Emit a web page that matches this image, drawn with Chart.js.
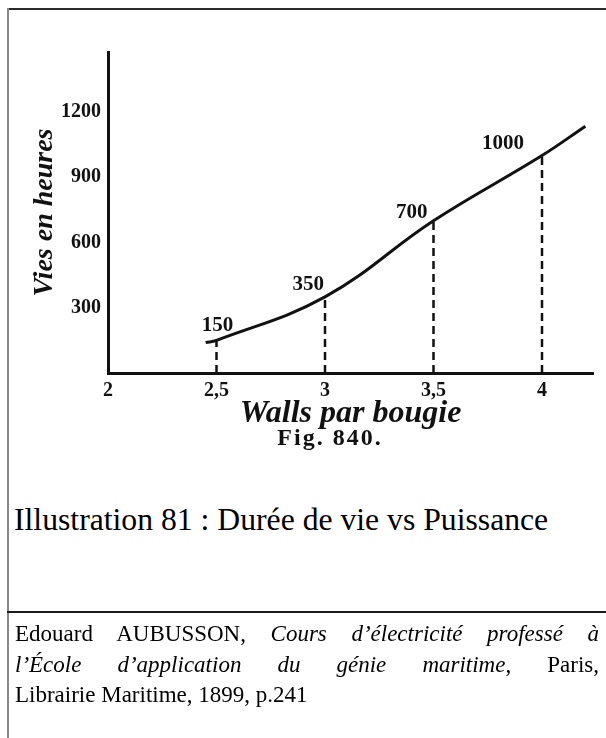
<!DOCTYPE html>
<html lang="fr">
<head>
<meta charset="utf-8">
<title>Durée de vie vs Puissance</title>
<script src="https://cdn.jsdelivr.net/npm/chart.js@4/dist/chart.umd.min.js"></script>
<style>
  html, body { margin: 0; padding: 0; background: #fff; }
  body { width: 606px; height: 738px; position: relative; overflow: hidden; }
  #plot { position: absolute; left: 0; top: 0; width: 606px; height: 470px; }
  .cadre-haut { position: absolute; left: 7px; top: 8px; width: 599px; height: 0; border-top: 2px solid #2b2b2b; }
  .cadre-gauche { position: absolute; left: 7px; top: 8px; width: 0; height: 730px; border-left: 2px solid #8a8a8a; }
  .separateur { position: absolute; left: 7px; top: 611px; width: 599px; height: 0; border-top: 2px solid #1a1a1a; }
  .fig { position: absolute; left: 250px; top: 424px; width: 160px; text-align: center;
         font: bold 24px "Liberation Serif", serif; letter-spacing: 2px; line-height: 26px; color: #111; }
  .legende { position: absolute; left: 14px; top: 504px; font: 31.7px "Liberation Serif", serif;
             line-height: 32px; color: #000; white-space: nowrap; }
  .source { position: absolute; left: 15px; top: 619px; width: 584px; font: 23px "Liberation Serif", serif;
            line-height: 30.5px; color: #000; }
  .source .ligne { text-align: justify; text-align-last: justify; white-space: nowrap; }
</style>
</head>
<body>
<div id="plot"><canvas id="vieChart"></canvas></div>
<div class="cadre-haut"></div>
<div class="cadre-gauche"></div>
<div class="fig">Fig. 840.</div>
<div class="legende">Illustration 81 : Durée de vie vs Puissance</div>
<div class="separateur"></div>
<div class="source">
  <div class="ligne">Edouard AUBUSSON, <i>Cours d’électricité professé à</i></div>
  <div class="ligne"><i>l’École d’application du génie maritime</i>, Paris,</div>
  <div>Librairie Maritime, 1899, p.241</div>
</div>

<script>
// courbe : watts par bougie -> vie en heures
const wattsCourbe = [2.45, 2.5, 3, 3.5, 4, 4.2];
const vieCourbe = [140, 150, 350, 700, 1000, 1135];

// points cotés (pointillés + étiquettes)
const wattsCotes = [2.5, 3, 3.5, 4];
const vieCotes = [150, 350, 700, 1000];

// graduations des axes
const xTicks = [2, 2.5, 3, 3.5, 4];
const yTicks = [300, 600, 900, 1200];

// placement des étiquettes autour des points
const etiquettes = [
    { dx: 1, dy: -15, align: 'center' },
    { dx: -1, dy: -12, align: 'right' },
    { dx: -6, dy: -8, align: 'right' },
    { dx: -18, dy: -12, align: 'right' }
];

const police = 'Liberation Serif';

const cotesPlugin = {
    id: 'cotes',
    afterDatasetsDraw(chart) {
        const { ctx, scales: { x, y } } = chart;
        ctx.save();
        ctx.fillStyle = '#111';
        ctx.font = 'bold 21px "' + police + '"';
        ctx.textBaseline = 'middle';
        wattsCotes.forEach((w, i) => {
            const e = etiquettes[i];
            ctx.textAlign = e.align;
            ctx.fillText(String(vieCotes[i]), x.getPixelForValue(w) + e.dx, y.getPixelForValue(vieCotes[i]) + e.dy);
        });
        ctx.restore();
    }
};

const pointilles = wattsCotes.map((w, i) => ({
    data: [{ x: w, y: 0 }, { x: w, y: vieCotes[i] }],
    borderColor: '#111',
    borderWidth: 2.5,
    borderDash: [8, 5],
    pointRadius: 0,
    fill: false
}));

const ctx = document.getElementById('vieChart').getContext('2d');
new Chart(ctx, {
    type: 'line',
    data: {
        datasets: [
            {
                data: wattsCourbe.map((w, i) => ({ x: w, y: vieCourbe[i] })),
                borderColor: '#111',
                borderWidth: 3,
                pointRadius: 0,
                tension: 0.4,
                fill: false
            },
            ...pointilles
        ]
    },
    options: {
        responsive: true,
        maintainAspectRatio: false,
        animation: false,
        layout: { padding: { left: 0, top: 52, right: 13, bottom: 0 } },
        plugins: {
            legend: { display: false },
            tooltip: { enabled: false }
        },
        scales: {
            x: {
                type: 'linear',
                min: 2,
                max: 4.235,
                grid: { display: false, drawTicks: false },
                border: { display: true, color: '#111', width: 3 },
                afterBuildTicks: s => { s.ticks = xTicks.map(v => ({ value: v })); },
                afterFit: s => { s.height = 97; },
                ticks: {
                    color: '#111',
                    padding: 6,
                    font: { family: police, size: 20, weight: 'bold' },
                    callback: v => String(v).replace('.', ',')
                },
                title: {
                    display: true,
                    text: 'Walls par bougie',
                    color: '#111',
                    font: { family: police, size: 32, weight: 'bold', style: 'italic', lineHeight: 1 },
                    padding: { top: 0, bottom: 40 }
                }
            },
            y: {
                type: 'linear',
                min: 0,
                max: 1476,
                grid: { display: false, drawTicks: false },
                border: { display: true, color: '#111', width: 3 },
                afterBuildTicks: s => { s.ticks = yTicks.map(v => ({ value: v })); },
                afterFit: s => { s.width = 108; },
                ticks: {
                    color: '#111',
                    padding: 7,
                    font: { family: police, size: 20, weight: 'bold' },
                    callback: v => String(v)
                },
                title: {
                    display: true,
                    text: 'Vies en heures',
                    color: '#111',
                    font: { family: police, size: 28, weight: 'bold', style: 'italic', lineHeight: 1 },
                    padding: { top: 31, bottom: 0 }
                }
            }
        }
    },
    plugins: [cotesPlugin]
});
</script>
</body>
</html>
